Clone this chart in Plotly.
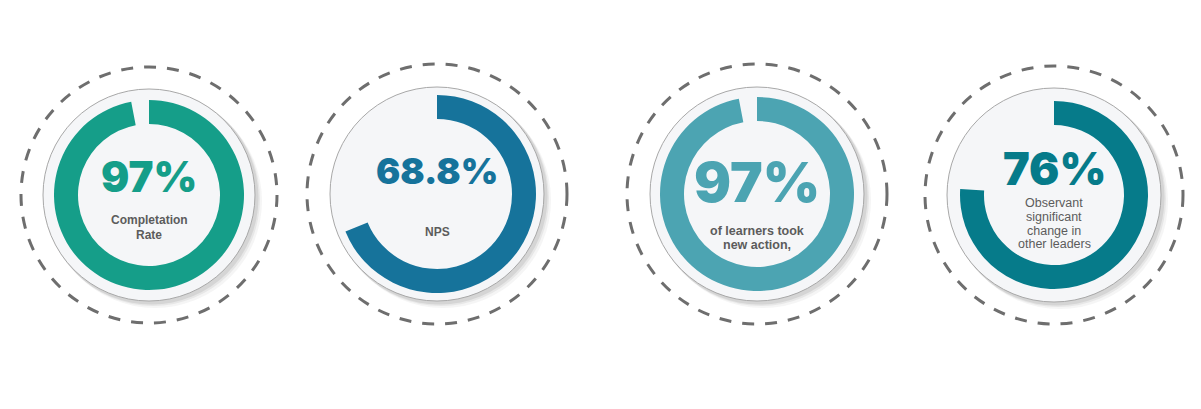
import plotly.graph_objects as go

# ---- data ----
metric_values = [97, 68.8, 97, 76]
metric_labels = ["97%", "68.8%", "97%", "76%"]
captions = [["Completation", "Rate"], ["NPS"], ["of learners took", "new action,"],
            ["Observant", "significant", "change in", "other leaders"]]
ring_colors = ["#159e89", "#16739b", "#4ca4b2", "#067b8a"]

# ---- layout (pixel geometry) ----
W, H = 1201, 409
cxs = [149, 437, 757, 1054]
cys = [195, 194, 194, 195]
ring_r = [95, 99, 97, 94]
ring_w = 24
white_r = [106, 107, 107, 107]
dash_r = [128, 130, 130, 129]
pct_size = [42, 36, 55, 45]
pct_y = [176, 171, 182, 168]
cap_y0 = [220, 232, 231, 203]
cap_step = [15, 14, 13.5, 13.8]
cap_weight = ["bold", "bold", "bold", "normal"]
cap_size = [12, 12, 12.5, 12.5]


def px(x):
    return x / W


def py(y):
    return (H - y) / H


fig = go.Figure()
shapes = []
annotations = []

for i in range(4):
    cx, cy = cxs[i], cys[i]
    # dashed outer circle
    r = dash_r[i]
    shapes.append(dict(type="circle", xref="paper", yref="paper",
                       x0=px(cx - r), x1=px(cx + r), y0=py(cy + r), y1=py(cy - r),
                       line=dict(color="#6e6e6e", width=3, dash="12px,11px"),
                       layer="below"))
    # soft shadow
    for off, op in [(6, 0.05), (4, 0.07), (2.5, 0.10)]:
        r = white_r[i] + 1
        shapes.append(dict(type="circle", xref="paper", yref="paper",
                           x0=px(cx - r + off), x1=px(cx + r + off),
                           y0=py(cy + r + off), y1=py(cy - r + off),
                           fillcolor=f"rgba(60,60,60,{op})", line=dict(width=0),
                           layer="below"))
    # white disc
    r = white_r[i]
    shapes.append(dict(type="circle", xref="paper", yref="paper",
                       x0=px(cx - r), x1=px(cx + r), y0=py(cy + r), y1=py(cy - r),
                       fillcolor="#f5f6f8", line=dict(color="#a8a8a8", width=1),
                       layer="below"))
    # donut
    R = ring_r[i]
    v = metric_values[i]
    fig.add_trace(go.Pie(
        values=[v, 100 - v], labels=["value", "rest"], sort=False,
        direction="clockwise", rotation=0, hole=(R - ring_w) / R,
        marker=dict(colors=[ring_colors[i], "rgba(0,0,0,0)"], line=dict(width=0)),
        textinfo="none", hoverinfo="skip", showlegend=False,
        domain=dict(x=[px(cx - R), px(cx + R)], y=[py(cy + R), py(cy - R)])))
    annotations.append(dict(x=px(cx), y=py(pct_y[i]), xref="paper", yref="paper",
                            text=metric_labels[i], showarrow=False,
                            xanchor="center", yanchor="middle",
                            font=dict(family="Inter", size=pct_size[i],
                                      color=ring_colors[i], weight=900)))
    for j, line in enumerate(captions[i]):
        annotations.append(dict(x=px(cx), y=py(cap_y0[i] + j * cap_step[i]),
                                xref="paper", yref="paper",
                                text=line, showarrow=False,
                                xanchor="center", yanchor="middle",
                                font=dict(family="Liberation Sans", size=cap_size[i],
                                          color="#5c5c5c", weight=cap_weight[i])))

fig.update_layout(width=W, height=H, margin=dict(l=0, r=0, t=0, b=0),
                  paper_bgcolor="white", plot_bgcolor="white",
                  shapes=shapes, annotations=annotations)
fig.write_html("out.html")
